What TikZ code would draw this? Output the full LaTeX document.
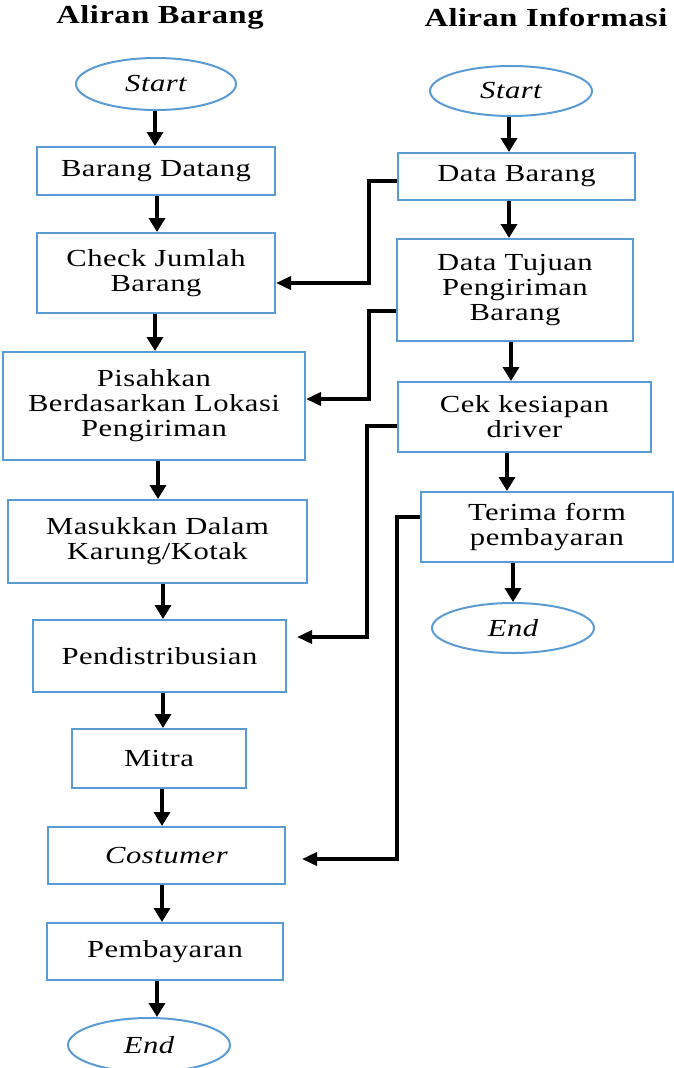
\documentclass[tikz,border=0pt]{standalone}
\usepackage{fontspec}
\setmainfont{Liberation Serif}[FakeStretch=1.25,LetterSpace=2]
\usetikzlibrary{shapes.geometric,arrows.meta}
\definecolor{boxblue}{RGB}{91,155,213}
\tikzset{
  procbox/.style={draw=boxblue,line width=2pt,rectangle,inner sep=0pt,align=center,
    font=\fontsize{24.5}{25}\selectfont},
  termnode/.style={draw=boxblue,line width=2pt,ellipse,inner sep=0pt,
    font=\fontsize{24.5}{25}\selectfont\itshape},
  heading/.style={font=\fontsize{26}{28}\selectfont\bfseries},
  flow/.style={line width=4.5pt,-{Triangle[length=14pt,width=16pt]}},
  link/.style={line width=3.5pt,-{Triangle[length=15pt,width=13pt]}}
}
\begin{document}
\begin{tikzpicture}[x=1pt,y=-1pt]
\useasboundingbox (0,0) rectangle (674,1068);

% column headings
\node[heading] (hL) at (160,17) {Aliran Barang};
\node[heading] (hR) at (546,17) {Aliran Informasi};

% flow of goods
\node[termnode,minimum width=160pt,minimum height=52pt] (L0) at (156,84) {Start};
\node[procbox,minimum width=238pt,minimum height=48pt] (L1) at (156,171) {Barang Datang};
\node[procbox,minimum width=238pt,minimum height=80pt] (L2) at (156,273) {Check Jumlah\\Barang};
\node[procbox,minimum width=302pt,minimum height=108pt] (L3) at (154,406) {Pisahkan\\Berdasarkan Lokasi\\Pengiriman};
\node[procbox,minimum width=299pt,minimum height=83pt] (L4) at (157.5,541.5) {Masukkan Dalam\\Karung/Kotak};
\node[procbox,minimum width=253pt,minimum height=72pt] (L5) at (159.5,656) {Pendistribusian};
\node[procbox,minimum width=174pt,minimum height=59pt] (L6) at (159,758.5) {Mitra};
\node[procbox,minimum width=237pt,minimum height=57pt] (L7) at (166.5,855.5) {\itshape Costumer};
\node[procbox,minimum width=236pt,minimum height=57pt] (L8) at (165,951.5) {Pembayaran};
\node[termnode,minimum width=162pt,minimum height=54pt] (L9) at (149,1045) {End};

% flow of information
\node[termnode,minimum width=162pt,minimum height=50pt] (R0) at (511,91) {Start};
\node[procbox,minimum width=237pt,minimum height=47pt] (R1) at (516.5,176.5) {Data Barang};
\node[procbox,minimum width=236pt,minimum height=102pt] (R2) at (515,290) {Data Tujuan\\Pengiriman\\Barang};
\node[procbox,minimum width=253pt,minimum height=70pt] (R3) at (524.5,417) {Cek kesiapan\\driver};
\node[procbox,minimum width=252pt,minimum height=70pt] (R4) at (547,527) {Terima form\\pembayaran};
\node[termnode,minimum width=162pt,minimum height=50pt] (R5) at (513,628) {End};

% vertical arrows, left column
\draw[flow] ([xshift=-1pt]L0.south) -- ([xshift=-1pt]L0.south |- L1.north);
\draw[flow] ([xshift=1pt]L1.south) -- ([xshift=1pt]L1.south |- L2.north);
\draw[flow] ([xshift=-1pt]L2.south) -- ([xshift=-1pt]L2.south |- L3.north);
\draw[flow] ([xshift=4pt]L3.south) -- ([xshift=4pt]L3.south |- L4.north);
\draw[flow] ([xshift=5.5pt]L4.south) -- ([xshift=5.5pt]L4.south |- L5.north);
\draw[flow] ([xshift=3.5pt]L5.south) -- ([xshift=3.5pt]L5.south |- L6.north);
\draw[flow] ([xshift=3pt]L6.south) -- ([xshift=3pt]L6.south |- L7.north);
\draw[flow] ([xshift=-4.5pt]L7.south) -- ([xshift=-4.5pt]L7.south |- L8.north);
\draw[flow] ([xshift=-8pt]L8.south) -- ([xshift=-8pt]L8.south |- L9.north);

% vertical arrows, right column
\draw[flow] ([xshift=-2pt]R0.south) -- ([xshift=-2pt]R0.south |- R1.north);
\draw[flow] ([xshift=-7.5pt]R1.south) -- ([xshift=-7.5pt]R1.south |- R2.north);
\draw[flow] ([xshift=-4pt]R2.south) -- ([xshift=-4pt]R2.south |- R3.north);
\draw[flow] ([xshift=-17.5pt]R3.south) -- ([xshift=-17.5pt]R3.south |- R4.north);
\draw[flow] (R5.north |- R4.south) -- (R5.north);

% links from information to goods
\draw[link] ([yshift=-4.5pt]R1.west) -- ++(-28,0) |- ([yshift=-10pt]L2.east);
\draw[link] ([yshift=-21pt]R2.west) -- ++(-27,0) |- ([yshift=7pt]L3.east);
\draw[link] ([yshift=-9pt]R3.west) -- ++(-30,0) |- ([xshift=10pt,yshift=19pt]L5.east);
\draw[link] ([yshift=10pt]R4.west) -- ++(-23,0) |- ([xshift=16pt,yshift=-3.5pt]L7.east);
\end{tikzpicture}
\end{document}
